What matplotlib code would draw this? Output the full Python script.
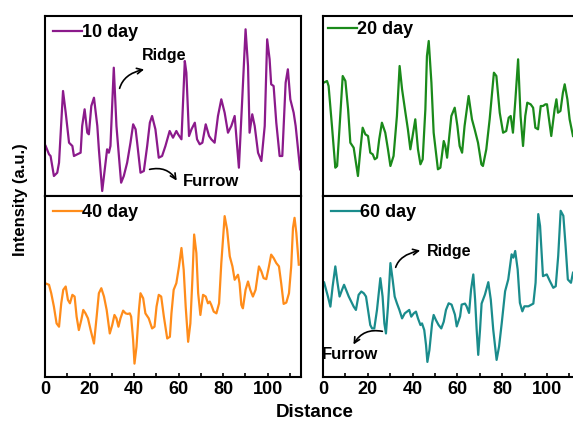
import numpy as np
import matplotlib.pyplot as plt
from matplotlib.ticker import MultipleLocator

plt.rcParams['font.family'] = ['Liberation Sans', 'DejaVu Sans']
plt.rcParams['font.weight'] = 'bold'

# --- data (arbitrary intensity units) ---
x10 = [0.3, 1.8, 2.5, 4.0, 5.5, 6.3, 8.1, 9.3, 10.8, 12.3, 13.0, 14.5, 16.0, 16.7, 17.8,
       19.0, 19.7, 20.8, 22.0, 23.5, 24.2, 25.7, 27.2, 27.9, 28.7, 29.4, 30.9, 32.1, 33.2,
       34.2, 35.4, 36.9, 38.4, 39.6, 40.7, 41.4, 42.9, 44.4, 45.9, 47.1, 48.1, 49.6, 51.1,
       52.6, 54.1, 56.0, 57.5, 59.0, 59.8, 61.3, 62.8, 63.5, 64.7, 65.8, 67.3, 68.3, 69.5,
       70.7, 72.2, 73.7, 74.7, 76.2, 77.7, 79.2, 80.7, 82.2, 83.7, 85.2, 87.1, 88.6, 90.1,
       91.2, 91.9, 93.1, 94.2, 95.7, 97.2, 98.7, 99.8, 100.9, 101.6, 102.7, 103.9, 105.4,
       106.6, 108.1, 109.1, 110.2, 111.7, 112.6, 114.6]
y10 = [50, 41.7, 40, 20, 23.3, 33.3, 105, 83.3, 53.3, 50, 40, 41.7, 43.3, 70, 86.7,
       63.3, 61.7, 90, 98.3, 70, 46.7, 5, 33.3, 46.7, 43.3, 50, 128.3, 70, 40,
       13.3, 20, 33.3, 53.3, 71.7, 66.7, 53.3, 23.3, 25, 50, 73.3, 80, 66.7, 38.3,
       40, 50, 65, 58.3, 65, 61.7, 56.7, 135, 123.3, 60, 66.7, 73.3, 56.7, 51.7,
       53.3, 71.7, 60, 56.7, 53.3, 80, 96.7, 83.3, 63.3, 70, 80, 28.3, 96.7, 166.7,
       130, 63.3, 81.7, 70, 43.3, 35, 70, 156.7, 136.7, 111.7, 110, 73.3, 40,
       40, 113.3, 126.7, 96.7, 83.3, 70, 26.7]

x20 = [0.3, 1.8, 2.5, 4.0, 5.5, 6.3, 7.7, 8.8, 10.0, 11.2, 12.2, 13.7, 15.6, 16.7, 17.7,
       18.9, 20.1, 21.1, 22.2, 23.1, 24.1, 25.1, 26.3, 27.8, 29.0, 30.1, 31.5, 33.0, 34.2,
       35.3, 36.8, 37.9, 39.0, 40.0, 41.2, 42.4, 43.5, 44.5, 45.7, 46.4, 47.2, 48.4, 49.4,
       51.3, 52.4, 53.9, 54.6, 55.4, 57.3, 58.8, 60.0, 61.0, 62.1, 63.2, 65.0, 66.5, 67.7,
       69.2, 70.7, 71.4, 72.9, 74.4, 76.3, 77.4, 78.9, 80.4, 81.8, 82.9, 83.8, 84.8, 85.9,
       87.1, 88.2, 89.3, 90.3, 91.2, 92.7, 93.8, 94.8, 96.0, 97.2, 98.2, 99.3, 100.0, 100.7,
       101.9, 103.4, 104.2, 104.9, 106.0, 107.1, 107.9, 109.1, 110.1, 111.6]
y20 = [113.3, 115, 110, 70, 28.3, 30, 80, 120, 115, 86.7, 53.3, 48.3, 20, 46.7, 68.3,
       61.7, 60, 43.3, 41.7, 36.7, 38.3, 56.7, 73.3, 63.3, 46.7, 30, 40, 80, 130,
       106.7, 83.3, 66.7, 46.7, 60, 76.7, 46.7, 31.7, 36.7, 86.7, 140, 155, 113.3, 63.3,
       26.7, 28.3, 55, 50, 38.3, 80, 88.3, 70, 50, 43.3, 70, 100, 76.7, 66.7,
       53.3, 31.7, 30, 46.7, 76.7, 123.3, 120, 83.3, 63.3, 65, 78.3, 80, 63.3, 96.7,
       136.7, 80, 50, 80, 93.3, 91.7, 88.3, 68.3, 66.7, 90, 90, 91.7, 91.7, 80,
       60, 86.7, 96.7, 83.3, 85, 103.3, 111.7, 96.7, 76.7, 60]

x40 = [0.7, 1.8, 2.8, 4.0, 5.2, 6.3, 7.3, 8.2, 9.3, 10.3, 11.2, 12.3, 13.3, 14.2, 15.2,
       16.3, 17.2, 18.2, 19.3, 20.5, 22.0, 23.2, 24.2, 25.3, 26.5, 27.7, 29.1, 30.2, 31.2,
       32.1, 33.0, 33.9, 35.1, 36.2, 37.2, 38.1, 38.7, 39.6, 40.2, 41.1, 42.2, 42.9, 44.1,
       45.1, 46.6, 48.1, 49.2, 50.1, 51.1, 52.2, 53.4, 54.9, 56.1, 56.8, 57.8, 59.0, 60.2,
       61.3, 62.3, 63.2, 64.3, 65.3, 66.2, 67.0, 68.0, 68.8, 69.8, 71.0, 72.2, 73.2, 74.0,
       74.7, 75.8, 77.0, 78.2, 79.2, 80.7, 81.8, 83.0, 84.2, 85.2, 86.7, 87.4, 88.2, 88.9,
       90.1, 91.2, 92.2, 93.4, 94.6, 96.1, 97.2, 98.2, 99.4, 100.6, 101.6, 102.7, 103.9,
       105.1, 106.1, 107.2, 108.4, 109.6, 110.6, 111.4, 112.1, 112.9, 114.0]
y40 = [92.7, 91.7, 83.3, 70, 53.3, 50, 73.3, 86.7, 90, 76.7, 73.3, 81.7, 80, 60, 46.7,
       56.7, 66.7, 63.3, 58.3, 46.7, 33.3, 60, 83.3, 88.3, 80, 66.7, 43.3, 51.7, 61.7,
       58.3, 50, 58.3, 66, 63.3, 62.7, 63.3, 60, 36.7, 13.3, 30, 66.7, 83.3, 78.3,
       63.3, 58.3, 48.3, 50, 70, 81.7, 80, 60, 38.3, 40, 63.3, 86.7, 93.3, 110,
       128.3, 106.7, 70, 35, 53.3, 96.7, 141.7, 123.3, 83.3, 61.7, 81.7, 80, 73.3, 75,
       71.7, 65, 63.3, 73.3, 113.3, 160, 146.7, 120, 110, 96.7, 101.7, 93.3, 71.7, 68.3,
       86.7, 95, 86.7, 80, 86.7, 110, 105, 98.3, 97.3, 110, 121.7, 118.3, 113.3,
       110, 93.3, 72.7, 74, 83.3, 110, 148.3, 158.3, 143.3, 111.7]

x60 = [0.5, 2.2, 3.3, 4.3, 5.5, 6.5, 7.4, 8.5, 9.4, 10.3, 11.5, 12.6, 13.7, 14.7, 15.9,
       17.1, 18.2, 19.2, 20.1, 21.1, 21.9, 22.9, 24.1, 25.6, 26.6, 27.4, 28.1, 29.0, 30.1,
       31.1, 32.0, 33.0, 34.1, 35.3, 36.5, 37.5, 38.5, 39.4, 40.5, 41.5, 42.4, 43.5, 44.2,
       45.2, 46.0, 46.6, 47.5, 48.7, 49.4, 50.4, 51.6, 52.8, 53.9, 54.9, 56.1, 57.4, 58.9,
       59.7, 61.2, 61.9, 63.4, 64.1, 65.2, 66.1, 67.1, 67.9, 68.6, 69.3, 70.1, 70.8, 72.3,
       73.8, 74.9, 76.0, 77.5, 78.6, 79.8, 81.3, 82.7, 84.2, 85.0, 85.8, 86.9, 87.9, 89.0,
       89.9, 91.7, 93.9, 94.9, 96.1, 96.9, 98.2, 99.9, 101.3, 102.8, 103.9, 105.0, 106.1,
       107.3, 108.3, 109.3, 110.7, 111.6]
y60 = [94, 80, 70, 90, 110, 93.3, 80, 86.7, 91.7, 86.7, 80, 75, 70, 66.7, 81.7,
       85, 83.3, 80, 66.7, 51.7, 48.3, 48.3, 66.7, 98.3, 80, 53.3, 43.3, 70, 113.3,
       96.7, 80, 73.3, 66.7, 58.3, 63.3, 65, 66.7, 60, 63.3, 65, 58.3, 51.7, 53.3,
       46.7, 31.7, 15, 26.7, 53.3, 61.7, 56.7, 51.7, 48.3, 55, 66.7, 73.3, 72, 62,
       50.3, 60.3, 72, 73, 70.3, 63.7, 87, 102, 77, 47, 22, 47, 73, 82,
       94.3, 77, 47, 17, 30.3, 53.7, 85.3, 97, 122, 118.7, 125.3, 107, 73.7, 65.3,
       70.3, 70.3, 73, 93.7, 162, 150.3, 100.3, 102, 95.3, 88.7, 90.3, 120.3, 165.3,
       160.3, 130.3, 97, 93.7, 103.7]

labels = ['10 day', '20 day', '40 day', '60 day']
colors = ['#8B1A8B', '#1A8A1A', '#FF8C1A', '#1A8C8C']

fig = plt.figure(figsize=(5.73, 4.23), dpi=100)
W, H = 573.0, 423.0

def make_axes(px_left, px_top, px_w, px_h):
    return fig.add_axes([px_left / W, 1 - (px_top + px_h) / H, px_w / W, px_h / H])

ax10 = make_axes(45, 16, 256, 180)
ax20 = make_axes(323, 16, 257.6, 180)
ax40 = make_axes(45, 196, 256, 181)
ax60 = make_axes(323, 196, 257.6, 181)

series = [(ax10, x10, y10), (ax20, x20, y20), (ax40, x40, y40), (ax60, x60, y60)]
for i, (ax, xs, ys) in enumerate(series):
    ax.plot(xs, ys, color=colors[i], lw=1.6, label=labels[i])
    ax.set_xlim(0, 115)
    ax.set_ylim(0, 180)
    ax.set_yticks([])
    for s in ax.spines.values():
        s.set_linewidth(1.5)
    ax.xaxis.set_major_locator(MultipleLocator(20))
    ax.xaxis.set_minor_locator(MultipleLocator(10))
    ax.tick_params(axis='x', which='both', direction='in', length=3, width=1.2,
                   labelsize=13, pad=3)
    for t in ax.get_xticklabels():
        t.set_fontweight('bold')
    # 20 day legend sits closer to the left spine in the original
    pad = 0.0 if i == 1 else 0.15
    ax.legend(loc='upper left', frameon=False, handlelength=1.6, handletextpad=0.0,
              borderaxespad=pad, borderpad=0.3,
              prop={'weight': 'bold', 'size': 13})

for ax in (ax10, ax20):
    ax.tick_params(axis='x', which='both', length=0, labelbottom=False)

# annotations
arrow_kw = dict(arrowstyle='->', color='black', lw=1.2)
ax10.annotate('', xy=(0.398, 0.706), xytext=(0.289, 0.583), xycoords='axes fraction',
              arrowprops=dict(connectionstyle='angle3,angleA=80,angleB=10', **arrow_kw))
ax10.text(0.379, 0.783, 'Ridge', transform=ax10.transAxes, fontsize=11.5,
          fontweight='bold', va='center')
ax10.annotate('', xy=(0.52, 0.072), xytext=(0.398, 0.144), xycoords='axes fraction',
              arrowprops=dict(connectionstyle='arc3,rad=-0.4', **arrow_kw))
ax10.text(0.539, 0.083, 'Furrow', transform=ax10.transAxes, fontsize=12,
          fontweight='bold', va='center')

ax60.annotate('', xy=(0.388, 0.702), xytext=(0.2795, 0.591), xycoords='axes fraction',
              arrowprops=dict(connectionstyle='angle3,angleA=80,angleB=10', **arrow_kw))
ax60.text(0.404, 0.696, 'Ridge', transform=ax60.transAxes, fontsize=11.5,
          fontweight='bold', va='center')
ax60.annotate('', xy=(0.113, 0.166), xytext=(0.241, 0.249), xycoords='axes fraction',
              arrowprops=dict(connectionstyle='arc3,rad=0.4', **arrow_kw))
ax60.text(-0.004, 0.122, 'Furrow', transform=ax60.transAxes, fontsize=12,
          fontweight='bold', va='center')

fig.text(0.035, 0.527, 'Intensity (a.u.)', rotation=90, ha='center', va='center',
         fontsize=12, fontweight='bold')
fig.text(0.55, 0.024, 'Distance', ha='center', va='center', fontsize=13.5,
         fontweight='bold')

fig.savefig('out.png', dpi=100)
